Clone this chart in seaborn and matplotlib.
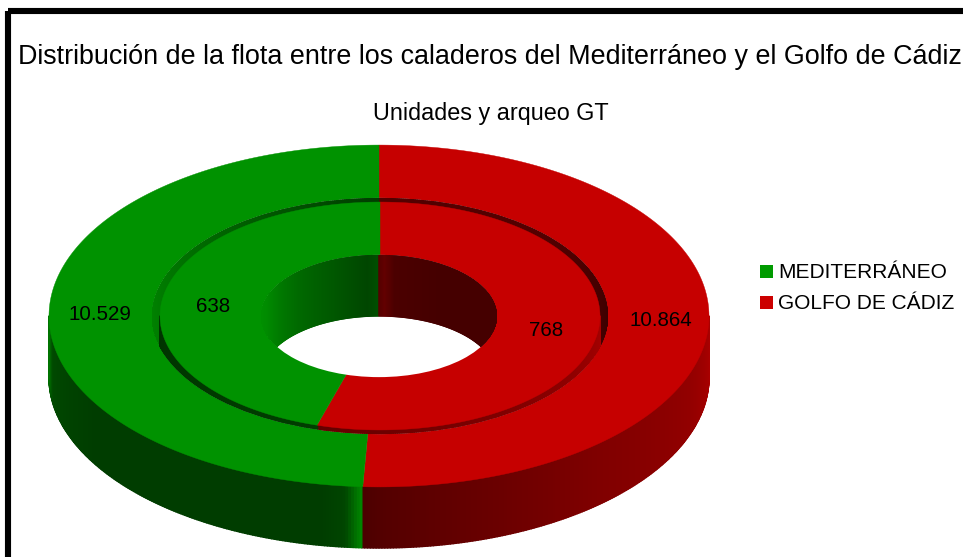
import numpy as np
import matplotlib
matplotlib.use("Agg")
import matplotlib.pyplot as plt
from matplotlib.collections import PolyCollection
from matplotlib.patches import Ellipse, Rectangle
import seaborn as sns

# --- data ---
series_names = ["MEDITERRÁNEO", "GOLFO DE CÁDIZ"]
arqueo_gt = [10529, 10864]   # outer ring
unidades = [638, 768]        # inner ring
arqueo_labels = ["10.529", "10.864"]
unidades_labels = ["638", "768"]
title_text = "Distribución de la flota entre los caladeros del Mediterráneo y el Golfo de Cádiz"
subtitle_text = "Unidades y arqueo GT"

# --- style ---
GREEN = np.array([0, 146, 0]) / 255
RED = np.array([198, 0, 0]) / 255
palette = sns.color_palette([tuple(GREEN), tuple(RED)])
legend_palette = sns.color_palette([(0, 155 / 255, 0), (204 / 255, 0, 0)])
CX, CY = 379.0, 316.0
DEPTH = 61.0
R_OUT, R_GAP_OUT, R_GAP_IN, R_HOLE = 330.0, 228.0, 220.0, 118.0
SQ = 0.518
GX = 380.0

sns.set_theme(style="white")
plt.rcParams["font.family"] = ["Liberation Sans", "DejaVu Sans"]

fig = plt.figure(figsize=(9.63, 5.57), dpi=100)
ax = fig.add_axes([0, 0, 1, 1])
ax.set_xlim(0, 963)
ax.set_ylim(557, 0)
ax.axis("off")


def pt(theta, r, cx=CX, dy=0.0):
    t = np.radians(theta)
    return np.column_stack([cx + r * np.sin(t), CY - r * SQ * np.cos(t) + dy])


def splits(values):
    """Clockwise from 12 o'clock: second series first, then first series."""
    return 360.0 * values[1] / sum(values)


def top_face(values, r, cx, z):
    a = splits(values)
    for (t0, t1, c) in [(0, a, palette[1]), (a, 360, palette[0])]:
        th = np.linspace(t0, t1, 240)
        poly = np.vstack([[[cx, CY]], pt(th, r, cx)])
        ax.fill(poly[:, 0], poly[:, 1], color=c, lw=0.3, zorder=z)


def wall(values, r, cx, z, t_from, t_to, shade_g, shade_r, clip=None):
    a = splits(values)
    th = np.arange(t_from, t_to + 1e-6, 0.5)
    polys, cols = [], []
    for t0, t1 in zip(th[:-1], th[1:]):
        m = 0.5 * (t0 + t1) % 360
        up = pt(np.array([t0, t1]), r, cx)
        lo = pt(np.array([t1, t0]), r, cx, DEPTH)
        polys.append(np.vstack([up, lo]))
        if m <= a:
            cols.append(RED * np.interp(m, shade_r[0], shade_r[1]))
        else:
            cols.append(GREEN * np.interp(m, shade_g[0], shade_g[1]))
    pc = PolyCollection(polys, facecolors=cols, edgecolors=cols, linewidths=1.1, zorder=z)
    ax.add_collection(pc)
    if clip is not None:
        pc.set_clip_path(clip)


def ell(r, cx, z, fc="white"):
    e = Ellipse((cx, CY), 2 * r, 2 * r * SQ, fc=fc, ec="none", zorder=z)
    ax.add_patch(e)
    return e


# outer wall of the outer ring
wall(arqueo_gt, R_OUT, CX, 1, 90, 270,
     ([183, 184, 186, 190, 240, 262, 270], [0.95, 0.8, 0.48, 0.42, 0.42, 0.5, 0.8]),
     ([90, 110, 140, 170, 180, 183], [0.88, 0.74, 0.64, 0.48, 0.42, 0.38]))
top_face(arqueo_gt, R_OUT, CX, 2)

# groove between both rings
gap = ell(R_GAP_OUT, GX, 3)
wall(arqueo_gt, R_GAP_OUT, GX, 4, -90, 90,
     ([270, 300, 330, 360], [0.92, 0.78, 0.6, 0.42]),
     ([0, 45, 70, 90], [0.42, 0.42, 0.36, 0.3]), clip=gap)
wall(unidades, R_GAP_IN, GX, 5, 90, 270,
     ([197, 240, 270], [0.42, 0.38, 0.35]),
     ([90, 120, 160, 197], [0.85, 0.72, 0.6, 0.5]), clip=gap)
top_face(unidades, R_GAP_IN, GX, 6)

# hole with its inner wall
hole = ell(R_HOLE, CX, 7)
wall(unidades, R_HOLE, CX, 8, -90, 90,
     ([270, 290, 318, 341, 355, 360], [1.0, 0.95, 0.72, 0.58, 0.48, 0.55]),
     ([0, 3, 8, 30, 90], [0.42, 0.5, 0.38, 0.35, 0.35]), clip=hole)

# frame
ax.add_patch(Rectangle((7.5, 11), 1000, 1000, fc="none", ec="black", lw=4.4, zorder=20))

# texts
ax.text(490, 56.5, title_text, ha="center", va="center", fontsize=19.4, color="black", zorder=21)
ax.text(490.5, 113.5, subtitle_text, ha="center", va="center", fontsize=16.8, color="black", zorder=21)
ax.text(100, 315, arqueo_labels[0], ha="center", va="center", fontsize=14.8, color="black", zorder=21)
ax.text(660.5, 321, arqueo_labels[1], ha="center", va="center", fontsize=14.8, color="black", zorder=21)
ax.text(213.5, 306, unidades_labels[0], ha="center", va="center", fontsize=14.8, color="black", zorder=21)
ax.text(546, 331, unidades_labels[1], ha="center", va="center", fontsize=14.8, color="black", zorder=21)

# legend
for name, col, ly in zip(series_names, legend_palette, [271.5, 302.5]):
    ax.add_patch(Rectangle((759.5, ly - 6.5), 13, 13, fc=col, ec="none", zorder=21))
    ax.text(778, ly + 1, name, ha="left", va="center", fontsize=15, color="black", zorder=21)

fig.savefig("out.png", dpi=100)
